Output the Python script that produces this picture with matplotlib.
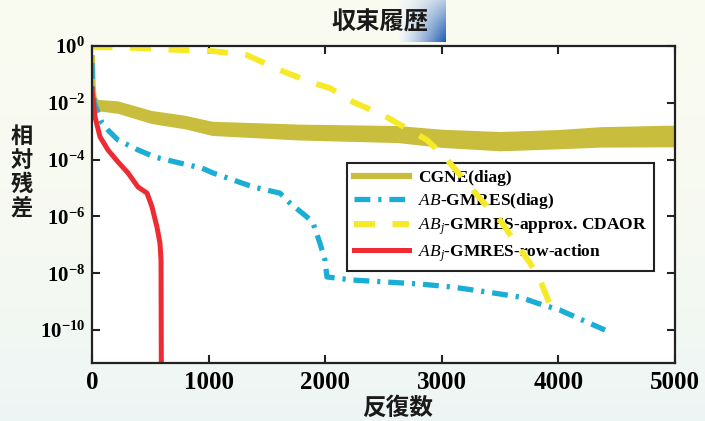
import numpy as np
import matplotlib
matplotlib.use("Agg")
import matplotlib.pyplot as plt
from matplotlib.ticker import FixedLocator, FixedFormatter, NullLocator

plt.rcParams['mathtext.fontset'] = 'custom'
plt.rcParams['mathtext.rm'] = 'Liberation Serif'
plt.rcParams['mathtext.it'] = 'Liberation Serif:italic'
plt.rcParams['mathtext.bf'] = 'Liberation Serif:bold'
plt.rcParams['mathtext.default'] = 'regular'

# data (residuals stored as log10 values)
cgne_x = [0, 5, 15, 50, 220, 510, 800, 1030, 1780, 2620, 3000, 3500, 4000, 4360, 4930, 5000]
cgne_log = [-0.43, -1.5, -1.85, -2.08, -2.15, -2.5, -2.68, -2.9, -3.03, -3.1, -3.25, -3.35, -3.28, -3.2, -3.17, -3.17]
cgne_spread = [0.05, 0.1, 0.15, 0.2, 0.22, 0.23, 0.24, 0.25, 0.28, 0.3, 0.32, 0.34, 0.34, 0.36, 0.38, 0.38]

ab_x = [0, 5, 20, 43, 86, 137, 223, 395, 540, 712, 943, 1038, 1381, 1612, 1698, 1844, 1895,
        1955, 1998, 2015, 2238, 2530, 2813, 3096, 3388, 3671, 3816, 4014, 4245, 4400]
ab_log = [-0.6, -1.5, -2.0, -2.25, -2.71, -2.96, -3.31, -3.66, -3.91, -4.08, -4.30, -4.47, -4.96,
          -5.18, -5.53, -6.02, -6.23, -6.94, -7.54, -8.13, -8.24, -8.31, -8.38, -8.49, -8.66,
          -8.84, -9.05, -9.30, -9.72, -10.0]

cdaor_x = [0, 9, 412, 755, 1038, 1329, 1612, 1895, 2041, 2238, 2496, 2616, 2727, 2873, 3010,
           3070, 3353, 3499, 3756, 3842, 3902, 3971]
cdaor_log = [0.0, -0.04, -0.07, -0.14, -0.18, -0.32, -0.85, -1.30, -1.48, -1.97, -2.43, -2.71,
             -2.96, -3.31, -3.84, -4.12, -5.49, -6.13, -7.64, -8.24, -8.84, -9.54]

row_x = [0, 26, 69, 137, 223, 309, 394, 472, 515, 557, 583, 592, 595]
row_log = [-1.5, -2.5, -3.2, -3.66, -4.08, -4.47, -4.96, -5.18, -5.67, -6.37, -6.94, -7.54, -12.0]

labels = ['CGNE(diag)', r'$\mathit{AB}$-GMRES(diag)',
          r'$\mathit{AB_j}$-GMRES-approx. CDAOR', r'$\mathit{AB_j}$-GMRES-row-action']
ytick_exp = [0, -2, -4, -6, -8, -10]
xticks = [0, 1000, 2000, 3000, 4000, 5000]

olive = '#c8bd3c'
blue = '#1aaed6'
yellow = '#f6e926'
red = '#ee2b33'

fig = plt.figure(figsize=(7.05, 4.21), dpi=100)

# background
bg = fig.add_axes([0, 0, 1, 1], zorder=-10)
top_c = np.array([0.98, 0.985, 0.945])
bot_c = np.array([0.93, 0.962, 0.958])
t = np.linspace(0, 1, 100)[:, None, None]
grad = top_c * (1 - t ** 2) + bot_c * t ** 2
bg.imshow(np.repeat(grad, 2, axis=1), aspect='auto', extent=[0, 1, 0, 1])
bg.axis('off')

# title gradient patch
tg = fig.add_axes([398 / 705, 1 - 42 / 421, 48 / 705, 42 / 421], zorder=-5)
xx, yy = np.meshgrid(np.linspace(0, 1, 40), np.linspace(0, 1, 40))
w = np.clip(xx ** 1.3 * (0.3 + 0.7 * yy), 0, 1)[:, :, None]
tg.imshow(np.array([0.97, 0.98, 0.97]) * (1 - w) + np.array([0.12, 0.36, 0.70]) * w,
          aspect='auto', extent=[0, 1, 0, 1])
tg.axis('off')

ax = fig.add_axes([92 / 705, 58 / 421, 583 / 705, 317 / 421])
ax.set_facecolor('white')

cx = np.array(cgne_x)
cl = np.array(cgne_log)
cs = np.array(cgne_spread)
ax.fill_between(cx, 10.0 ** (cl - cs), 10.0 ** (cl + cs), color=olive, lw=0, zorder=2)
ax.plot(cx, 10.0 ** cl, color=olive, lw=4.5, label=labels[0], zorder=2)
ax.plot(ab_x, 10.0 ** np.array(ab_log), color=blue, lw=3.8,
        dashes=(3.0, 1.5, 0.6, 1.5), label=labels[1], zorder=3)
ax.plot(cdaor_x, 10.0 ** np.array(cdaor_log), color=yellow, lw=4.2,
        dashes=(3.6, 3.0), label=labels[2], zorder=4)
ax.plot(row_x, 10.0 ** np.array(row_log), color=red, lw=3.6, label=labels[3], zorder=5)

ax.set_yscale('log')
ax.set_xlim(0, 5000)
ax.set_ylim(10 ** -11.16, 1.0)
ax.yaxis.set_major_locator(FixedLocator([10.0 ** e for e in ytick_exp]))
ax.yaxis.set_major_formatter(FixedFormatter(['$10^{%d}$' % e for e in ytick_exp]))
ax.yaxis.set_minor_locator(NullLocator())
ax.set_xticks(xticks)
ax.set_xticklabels([str(v) for v in xticks])

for s in ax.spines.values():
    s.set_linewidth(1.6)
    s.set_color('#222222')
    s.set_zorder(6)
ax.tick_params(direction='in', length=6, width=1.5, top=True, right=True, color='#222222')
for lab in ax.get_xticklabels():
    lab.set_fontfamily('Liberation Serif')
    lab.set_fontsize(18)
    lab.set_fontweight('bold')
for lab in ax.get_yticklabels():
    lab.set_fontfamily('Liberation Serif')
    lab.set_fontsize(15)
    lab.set_fontweight('bold')
ax.tick_params(axis='x', pad=6)
ax.tick_params(axis='y', pad=5)

leg = ax.legend(loc='upper left', bbox_to_anchor=(0.437, 0.631), borderaxespad=0,
                prop={'family': 'Liberation Serif', 'size': 12.5, 'weight': 'bold'},
                handlelength=3.2, handletextpad=0.5, labelspacing=0.3,
                borderpad=0.4, fancybox=False, framealpha=1, edgecolor='#222222')
leg.get_frame().set_linewidth(1.5)
leg.set_zorder(1)

fig.text(380 / 705, 1 - 23 / 421, '収束履歴', ha='center', va='center', fontsize=17.5,
         fontweight='bold', family=['Noto Sans CJK JP', 'DejaVu Sans'], color='#1a1a1a')
fig.text(398 / 705, 1 - 408 / 421, '反復数', ha='center', va='center', fontsize=17,
         fontweight='bold', family=['Noto Sans CJK JP', 'DejaVu Sans'], color='#1a1a1a')
fig.text(22 / 705, 1 - 172 / 421, '相\n対\n残\n差', ha='center', va='center', fontsize=16,
         fontweight='bold', linespacing=1.05, family=['Noto Sans CJK JP', 'DejaVu Sans'],
         color='#1a1a1a')

fig.savefig('out.png', dpi=100)
